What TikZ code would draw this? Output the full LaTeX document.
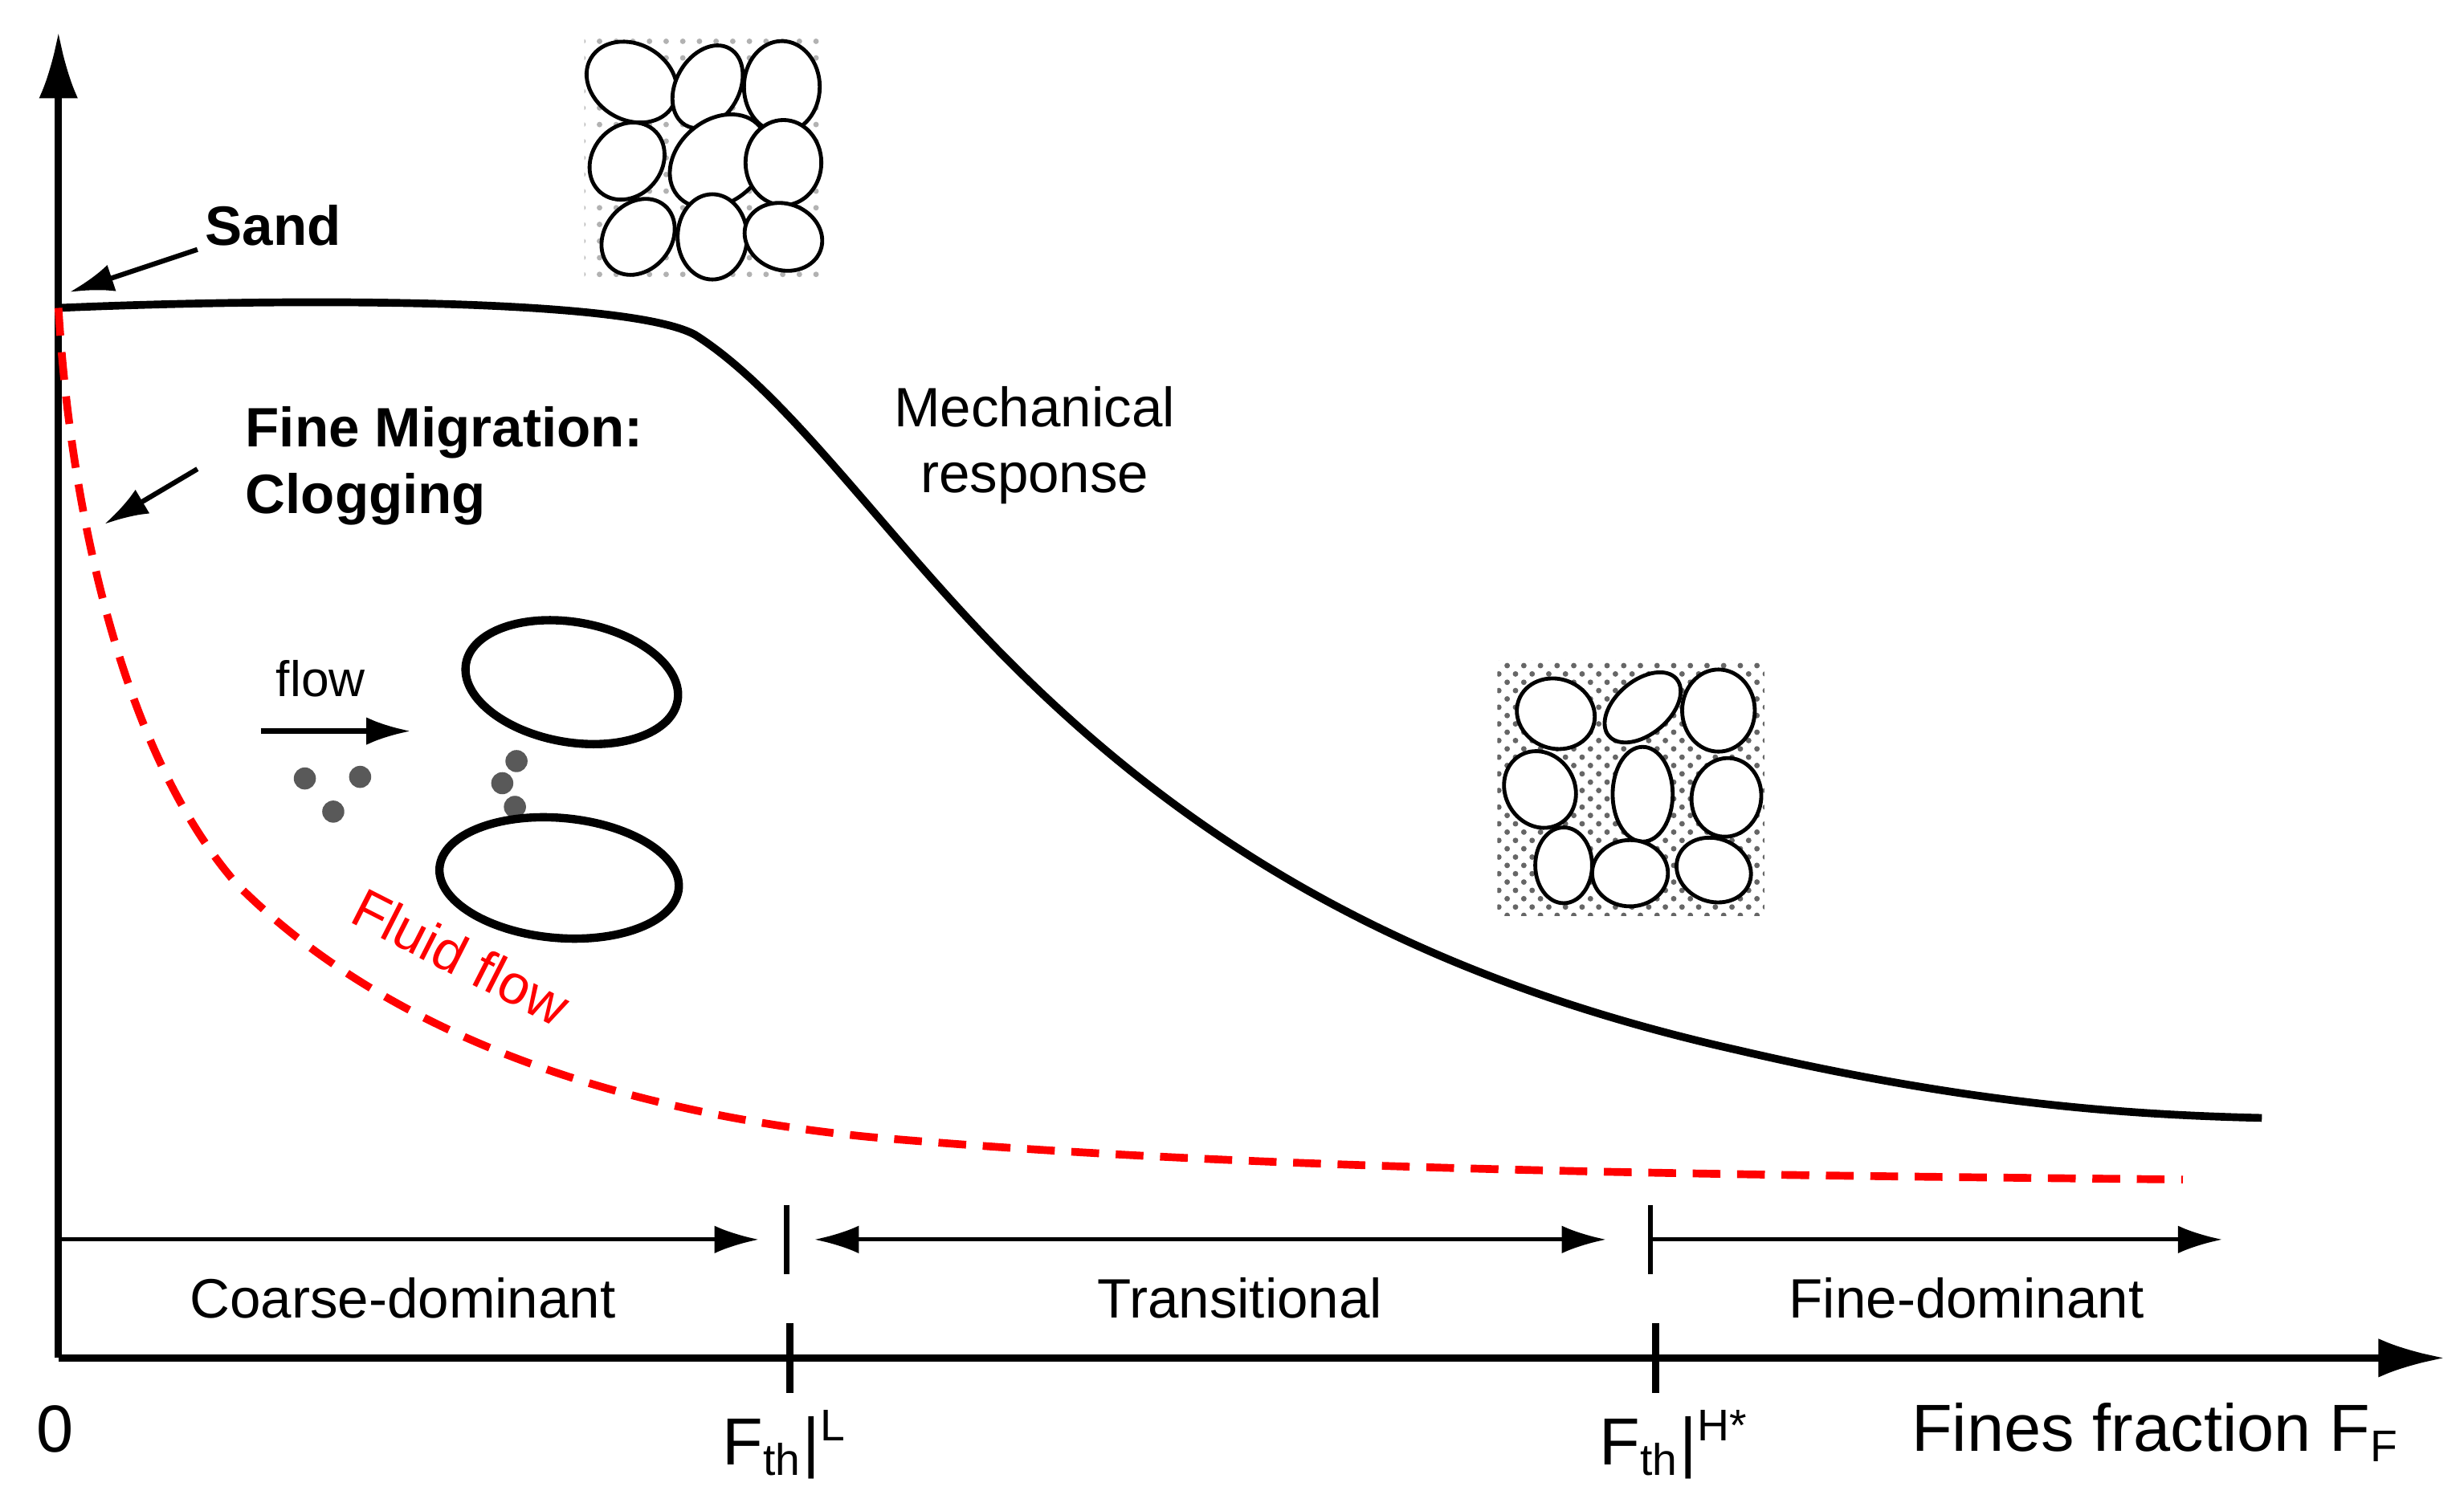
\documentclass[tikz,border=0pt]{standalone}
\usepackage{fontspec}
\setmainfont{Liberation Sans}
\usetikzlibrary{arrows.meta,patterns}

\tikzset{
  curve/.style={line width=1.4pt},
  zone/.style={-{Latex[length=8pt,width=5pt]},line width=0.7pt},
  pointer/.style={-{Latex[length=8pt,width=5pt]},line width=0.9pt},
  grain/.style={draw,fill=white,line width=0.7pt},
  dotgrain/.style={fill=black!65,draw=none}
}

\begin{document}
\begin{tikzpicture}[x=0.1mm,y=-0.1mm]
\useasboundingbox (0,0) rectangle (1560,954);
%-------->axes<--------------
\coordinate (O) at (37,860);
\coordinate (ytop) at (37,20);
\coordinate (xend) at (1548,860);
\draw[line width=1.3pt,-{Latex[length=12pt,width=7pt]}] (O) -- (ytop);
\draw[line width=1.3pt,-{Latex[length=12pt,width=7pt]}] (O) -- (xend);
\node (zero) at (35,905) {\large 0};
%-------->ticks<--------------
\draw[line width=1.3pt] (500,838) -- (500,882);
\draw[line width=1.3pt] (1048,838) -- (1048,882);
\node (fl) at (497,915) {\large F\textsubscript{th}|\textsuperscript{L}};
\node (fh) at (1060,915) {\large F\textsubscript{th}|\textsuperscript{H*}};
\node (ff) at (1365,907) {\large Fines fraction F\textsubscript{F}};
%-------->zones<--------------
\coordinate (z0) at (37,785);
\coordinate (z1) at (498,785);
\coordinate (z2) at (1045,785);
\coordinate (z3) at (1407,785);
\draw[line width=0.9pt] (498,763) -- (498,807);
\draw[line width=0.9pt] (1045,763) -- (1045,807);
\draw[zone] (z0) -- ([xshift=-5]z1);
\draw[zone,{Latex[length=8pt,width=5pt]}-{Latex[length=8pt,width=5pt]}] ([xshift=5]z1) -- ([xshift=-8]z2);
\draw[zone] (z2) -- (z3);
\node (coarse) at (255,822) {\normalsize Coarse-dominant};
\node (trans) at (785,822) {\normalsize Transitional};
\node (fine) at (1245,822) {\normalsize Fine-dominant};
%-------->curves<--------------
\coordinate (sand) at (37,195);
\draw[curve] (sand) .. controls (200,188) and (400,190) .. (440,212)
  .. controls (500,250) and (560,340) .. (640,420)
  .. controls (760,540) and (900,620) .. (1100,665)
  .. controls (1250,700) and (1350,706) .. (1432,708);
\draw[curve,red,dash pattern=on 5pt off 3pt] (sand) .. controls (45,330) and (80,480) .. (150,560)
  .. controls (250,660) and (400,705) .. (550,720)
  .. controls (800,742) and (1100,744) .. (1382,747);
\node[red,rotate=-27] (fluid) at (292,606) {\normalsize Fluid flow};
%-------->labels<--------------
\node[font=\normalsize\bfseries] (sandlbl) at (173,143) {Sand};
\draw[pointer] (125,158) -- (44,185);
\node[font=\normalsize\bfseries,align=left,anchor=west] (clog) at (143,295) {Fine Migration:\\Clogging};
\draw[pointer] (125,297) -- (66,332);
\node[font=\normalsize,align=center] (mech) at (655,282) {Mechanical\\response};
%-------->clogging sketch<--------------
\node[font=\small] (flow) at (203,430) {flow};
\draw[pointer] (165,463) -- (260,463);
\foreach \p in {(193,493),(228,492),(211,514),(327,482),(318,496),(326,511)}
  \fill[dotgrain] \p circle (7);
\draw[line width=1.5pt,rotate around={-10:(362,432)}] (362,432) ellipse [x radius=68,y radius=38];
\draw[line width=1.5pt,rotate around={-5:(354,556)}] (354,556) ellipse [x radius=76,y radius=38];
%-------->soil sketches<--------------
\fill[pattern=dots,pattern color=gray!60] (370,18) rectangle (522,180);
\foreach \cx/\cy/\rx/\ry/\a in {400/52/30/24/-30,448/55/28/20/60,495/55/24/29/0,
  397/102/22/26/-40,455/102/34/26/40,496/103/24/27/0,
  404/150/26/21/50,451/150/22/27/0,496/150/25/21/-20}
  \draw[grain,rotate around={\a:(\cx,\cy)}] (\cx,\cy) ellipse [x radius=\rx,y radius=\ry];
\fill[pattern=crosshatch dots,pattern color=black!60] (948,418) rectangle (1117,580);
\foreach \cx/\cy/\rx/\ry/\a in {985/452/25/22/-20,1040/448/28/17/40,1088/450/23/26/0,
  975/500/22/25/30,1040/503/19/30/0,1093/505/22/25/-10,
  990/548/18/24/0,1032/553/24/21/0,1085/551/24/20/-20}
  \draw[grain,rotate around={\a:(\cx,\cy)}] (\cx,\cy) ellipse [x radius=\rx,y radius=\ry];
\end{tikzpicture}
\end{document}
